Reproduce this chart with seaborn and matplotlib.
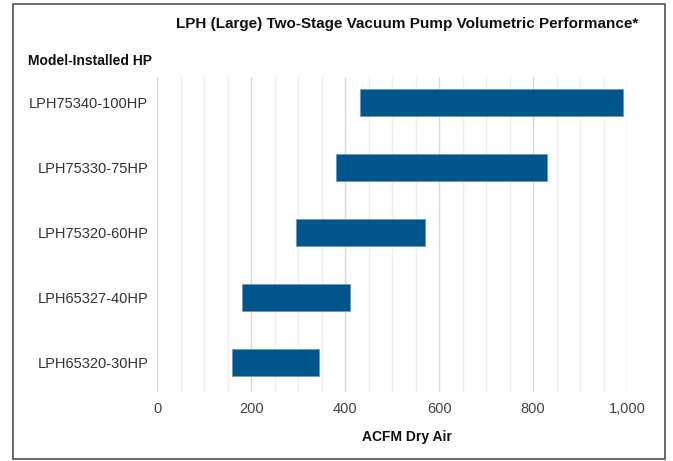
import numpy as np
import pandas as pd
import seaborn as sns
import matplotlib.pyplot as plt
from matplotlib.patches import Rectangle
from matplotlib.ticker import MultipleLocator, FuncFormatter

# data (ACFM dry air range per model)
models = ['LPH75340-100HP', 'LPH75330-75HP', 'LPH75320-60HP',
          'LPH65327-40HP', 'LPH65320-30HP']
acfm_low = [431, 380, 295, 180, 160]
acfm_high = [992, 830, 569, 410, 345]
x_ticks = [0, 200, 400, 600, 800, 1000]

df = pd.DataFrame({'model': models, 'low': acfm_low, 'high': acfm_high})
df['span'] = df['high'] - df['low']

sns.set_theme(style='white')
plt.rcParams['font.family'] = ['Liberation Sans', 'DejaVu Sans']

W, H = 673, 461
fig = plt.figure(figsize=(W / 100, H / 100), dpi=100)
ax = fig.add_axes([157.3 / W, 1 - 392 / H, (627 - 157.3) / W, (392 - 77) / H])

# floating bars: start at low, length = span
ax.barh(df['model'], df['span'], left=df['low'], height=0.42,
        color='#00568a', edgecolor='#6a97c2', linewidth=0.6, zorder=3)

ax.set_xlim(0, 1000)
ax.set_ylim(4.45, -0.395)
ax.set_xticks(x_ticks)
ax.xaxis.set_minor_locator(MultipleLocator(50))
ax.xaxis.set_major_formatter(FuncFormatter(lambda v, _: f'{int(v):,}'))

ax.set_axisbelow(True)
ax.grid(axis='x', which='major', color='#d8d8d8', linewidth=1)
ax.grid(axis='x', which='minor', color='#eeeeee', linewidth=1)
ax.grid(axis='y', visible=False)
sns.despine(ax=ax, left=True, bottom=True)

ax.tick_params(axis='both', which='both', length=0)
ax.tick_params(axis='x', pad=7, labelsize=10.5, labelcolor='#444444')
ax.tick_params(axis='y', pad=6.5, labelsize=10.5, labelcolor='#333333')
ax.set_xlabel('')
ax.set_ylabel('')

# titles
fig.text(407 / W, 1 - 24 / H, 'LPH (Large) Two-Stage Vacuum Pump Volumetric Performance*',
         ha='center', va='center', fontsize=11, fontweight='bold', color='#111111')
fig.text(28 / W, 1 - 61 / H, 'Model-Installed HP', ha='left', va='center',
         fontsize=10, fontweight='bold', color='#111111')
fig.text(407 / W, 1 - 437 / H, 'ACFM Dry Air', ha='center', va='center',
         fontsize=10, fontweight='bold', color='#111111')

# outer frame around the whole chart
fig.patches.append(Rectangle((13 / W, 2 / H), (665 - 13) / W, (458 - 3) / H,
                             transform=fig.transFigure, fill=False,
                             edgecolor='#5e5e5e', linewidth=1.3))

fig.savefig('out.png', dpi=100)
